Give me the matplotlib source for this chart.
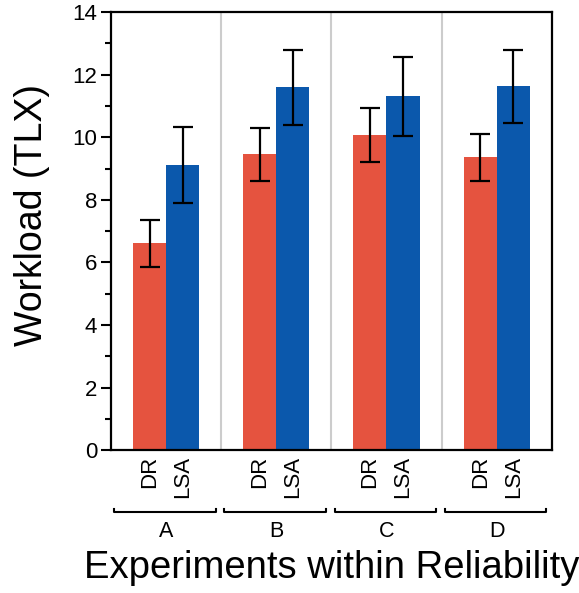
import numpy as np
import matplotlib
matplotlib.use("Agg")
import matplotlib.pyplot as plt
import matplotlib.transforms as mtransforms

plt.rcParams['font.family'] = ['Liberation Sans', 'DejaVu Sans']

groups = ["A", "B", "C", "D"]
conditions = ["DR", "LSA"]
dr_mean = [6.62, 9.46, 10.07, 9.36]
dr_err = [0.75, 0.85, 0.86, 0.75]
lsa_mean = [9.12, 11.59, 11.31, 11.62]
lsa_err = [1.22, 1.19, 1.26, 1.16]

red = "#E5533F"
blue = "#0B58AC"

fig = plt.figure(figsize=(5.79, 5.93), dpi=100)
ax = fig.add_axes([0.1917, 0.2406, 0.7613, 0.7392])

x = np.arange(len(groups))
w = 0.3
ekw = dict(elinewidth=1.6, capthick=1.6, ecolor="black")
ax.bar(x - w / 2, dr_mean, w, color=red, yerr=dr_err, capsize=7, error_kw=ekw, zorder=2)
ax.bar(x + w / 2, lsa_mean, w, color=blue, yerr=lsa_err, capsize=7, error_kw=ekw, zorder=2)

# separators between groups
for s in x[:-1] + 0.5:
    ax.axvline(s, color="#cccccc", lw=1.5, zorder=1)

ax.set_xlim(-0.5, len(groups) - 0.5)
ax.set_ylim(0, 14)
ax.set_yticks(np.arange(0, 15, 2))
ax.set_yticks(np.arange(1, 14, 2), minor=True)
ax.tick_params(axis="y", which="major", direction="out", length=7, width=1.5, labelsize=16, pad=3)
ax.tick_params(axis="y", which="minor", direction="out", length=4, width=1.5)

ticks = np.concatenate([x - w / 2, x + w / 2])
labels = [conditions[0]] * len(groups) + [conditions[1]] * len(groups)
ax.set_xticks(ticks)
ax.set_xticklabels(labels, rotation=90, fontsize=16)
ax.tick_params(axis="x", length=0, pad=4)

for sp in ax.spines.values():
    sp.set_linewidth(1.6)

# group brackets
trans = mtransforms.blended_transform_factory(ax.transData, ax.transAxes)
for i, g in enumerate(groups):
    x0, x1 = i - 0.47, i + 0.45
    ax.plot([x0, x0, x1, x1], [-0.133, -0.140, -0.140, -0.133], color="black",
            lw=1.5, transform=trans, clip_on=False)
    ax.text(i, -0.186, g, transform=trans, ha="center", va="center", fontsize=15.5)

ax.text(0.5, -0.268, "Experiments within Reliability", transform=ax.transAxes,
        ha="center", va="center", fontsize=27.5)
ax.text(-0.179, 0.537, "Workload (TLX)", transform=ax.transAxes, rotation=90,
        ha="center", va="center", fontsize=27)

fig.savefig("out.png", dpi=100)
